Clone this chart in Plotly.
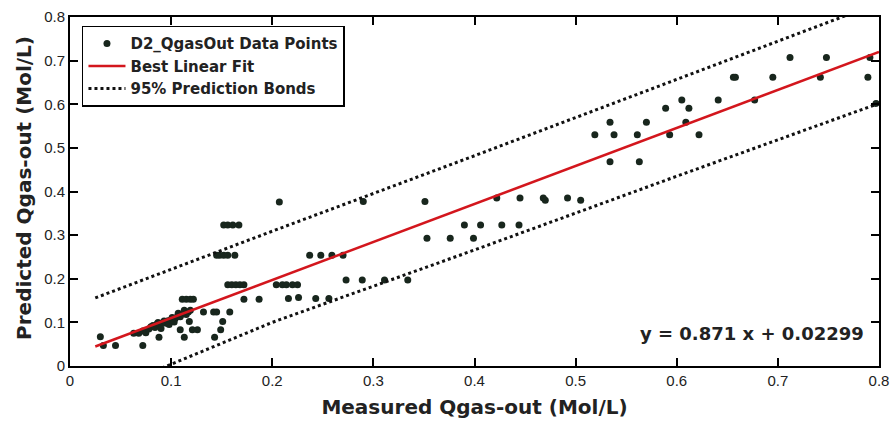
import plotly.graph_objects as go

# ---- data ----
measured = [
    0.030, 0.033, 0.045, 0.072, 0.088, 0.113, 0.143,
    0.063, 0.068, 0.072, 0.075, 0.078, 0.080, 0.082, 0.084, 0.086, 0.087,
    0.089, 0.090, 0.092, 0.093, 0.095, 0.097, 0.098, 0.100, 0.101, 0.103,
    0.104, 0.106, 0.107, 0.109, 0.110, 0.112, 0.113, 0.115, 0.117, 0.119,
    0.109, 0.121, 0.126, 0.149,
    0.118, 0.151,
    0.132, 0.142, 0.145, 0.158,
    0.111, 0.115, 0.119, 0.122, 0.172, 0.187,
    0.156, 0.160, 0.164, 0.168, 0.172, 0.204, 0.210, 0.214, 0.220, 0.225,
    0.216, 0.226, 0.243, 0.256,
    0.145, 0.148, 0.152, 0.156, 0.163, 0.237, 0.248, 0.259, 0.270,
    0.152, 0.156, 0.161, 0.167,
    0.207, 0.290, 0.351,
    0.273, 0.289, 0.311, 0.334,
    0.353, 0.376, 0.399,
    0.390, 0.406, 0.427, 0.444,
    0.422, 0.445, 0.468, 0.470, 0.492, 0.505,
    0.519, 0.534, 0.538, 0.534, 0.561, 0.563, 0.570, 0.589, 0.593, 0.605,
    0.609, 0.612, 0.622, 0.641, 0.656, 0.658, 0.677, 0.695, 0.712, 0.742,
    0.748, 0.789, 0.791, 0.797,
]
predicted = [
    0.067, 0.047, 0.047, 0.047, 0.066, 0.066, 0.066,
    0.075, 0.075, 0.080, 0.076, 0.085, 0.090, 0.093, 0.088, 0.096, 0.100,
    0.093, 0.086, 0.100, 0.103, 0.098, 0.104, 0.095, 0.106, 0.111, 0.101,
    0.109, 0.113, 0.121, 0.113, 0.118, 0.121, 0.128, 0.118, 0.124, 0.128,
    0.083, 0.083, 0.083, 0.083,
    0.102, 0.102,
    0.124, 0.124, 0.124, 0.124,
    0.153, 0.153, 0.153, 0.153, 0.153, 0.153,
    0.186, 0.186, 0.186, 0.186, 0.186, 0.186, 0.186, 0.186, 0.186, 0.186,
    0.155, 0.157, 0.155, 0.155,
    0.254, 0.254, 0.254, 0.254, 0.254, 0.254, 0.254, 0.254, 0.254,
    0.323, 0.323, 0.323, 0.323,
    0.376, 0.377, 0.377,
    0.197, 0.197, 0.197, 0.197,
    0.293, 0.293, 0.293,
    0.323, 0.323, 0.323, 0.323,
    0.385, 0.385, 0.385, 0.380, 0.385, 0.380,
    0.530, 0.559, 0.530, 0.468, 0.530, 0.468, 0.559, 0.591, 0.530, 0.610,
    0.559, 0.591, 0.530, 0.610, 0.662, 0.662, 0.610, 0.662, 0.707, 0.662,
    0.707, 0.662, 0.707, 0.602,
]

slope = 0.871
intercept = 0.02299
fit_x = [0.025, 0.8]
fit_y = [slope * v + intercept for v in fit_x]

upper_x = [0.025, 0.2, 0.4, 0.6, 0.8]
upper_y = [0.156, 0.309, 0.482, 0.656, 0.832]
lower_x = [0.025, 0.2, 0.4, 0.6, 0.8]
lower_y = [-0.068, 0.100, 0.266, 0.435, 0.602]

x_ticks = [0, 0.1, 0.2, 0.3, 0.4, 0.5, 0.6, 0.7, 0.8]
y_ticks = [0, 0.1, 0.2, 0.3, 0.4, 0.5, 0.6, 0.7, 0.8]

BOLD = "DejaVu Sans"
TICKF = "Liberation Sans, Arial"
TXT = "#222222"

fig = go.Figure()
fig.add_trace(go.Scatter(
    x=measured, y=predicted, mode="markers", name="D2_QgasOut Data Points",
    marker=dict(size=7, color="#18261d"),
))
fig.add_trace(go.Scatter(
    x=fit_x, y=fit_y, mode="lines", name="Best Linear Fit",
    line=dict(color="#d3161d", width=2.5),
))
fig.add_trace(go.Scatter(
    x=upper_x, y=upper_y, mode="lines", name="95% Prediction Bonds",
    line=dict(color="#111111", width=3, dash="dot"),
))
fig.add_trace(go.Scatter(
    x=lower_x, y=lower_y, mode="lines", name="95% Prediction Bonds",
    line=dict(color="#111111", width=3, dash="dot"), showlegend=False,
))

axis_common = dict(
    showline=True, linecolor="black", linewidth=2, mirror="ticks",
    ticks="inside", ticklen=8, tickwidth=1.8, tickcolor="black",
    showgrid=False, zeroline=False, automargin=False,
    tickfont=dict(family=TICKF, size=15, color=TXT),
)

fig.update_layout(
    width=894, height=421,
    margin=dict(l=70, r=15, t=17, b=55),
    paper_bgcolor="white", plot_bgcolor="white",
    xaxis=dict(range=[0, 0.8], tickvals=x_ticks,
               title=dict(text="Measured Qgas-out (Mol/L)", standoff=12,
                          font=dict(family=BOLD, size=20, color=TXT, weight="bold")),
               **axis_common),
    yaxis=dict(range=[0, 0.8], tickvals=y_ticks, **axis_common),
    legend=dict(x=0.0148, y=0.975, xanchor="left", yanchor="top",
                bgcolor="white", bordercolor="black", borderwidth=1.5,
                font=dict(family=BOLD, size=15, color=TXT, weight="bold"),
                tracegroupgap=0, itemwidth=37),
    showlegend=True,
    annotations=[
        dict(x=0.787, y=0.0756, xref="x", yref="y", xanchor="right", yanchor="middle",
             text="y = 0.871 x + 0.02299", showarrow=False,
             font=dict(family=BOLD, size=18, color=TXT, weight="bold")),
        dict(x=-0.057, y=0.51, xref="paper", yref="paper", xanchor="center",
             yanchor="middle", textangle=-90, showarrow=False,
             text="Predicted Qgas-out (Mol/L)",
             font=dict(family=BOLD, size=20, color=TXT, weight="bold")),
    ],
)

fig.write_html("out.html")
